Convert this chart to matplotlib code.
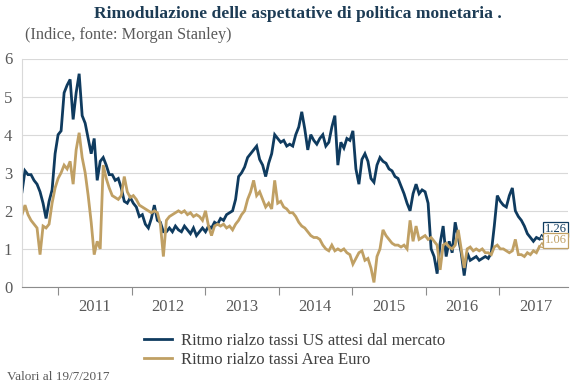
import matplotlib
matplotlib.use("Agg")
import matplotlib.pyplot as plt
import matplotlib.dates as mdates
from matplotlib.lines import Line2D
import pandas as pd

plt.rcParams['font.family'] = ['Liberation Serif', 'DejaVu Serif']

# values, one roughly every two weeks, Jul 2010 - 19 Jul 2017
us = [2.5, 3.05, 2.95, 2.95, 2.8, 2.7, 2.5, 2.2, 1.8, 2.25,
      2.55, 3.5, 4.0, 4.1, 5.1, 5.3, 5.45, 4.4, 5.1, 5.6,
      4.5, 4.3, 3.9, 3.5, 3.9, 2.8, 3.3, 3.4, 3.2, 2.95,
      2.95, 2.8, 2.85, 2.6, 2.25, 2.2, 2.35, 2.2, 2.1, 1.85,
      1.9, 1.65, 1.55, 1.8, 2.15, 1.75, 1.7, 1.45, 1.45, 1.55,
      1.45, 1.6, 1.5, 1.45, 1.6, 1.5, 1.4, 1.55, 1.35, 1.45,
      1.55, 1.45, 1.6, 1.55, 1.7, 1.65, 1.8, 1.75, 1.9, 1.95,
      2.0, 2.3, 2.9, 3.0, 3.15, 3.4, 3.5, 3.6, 3.7, 3.35,
      3.2, 2.9, 3.25, 3.5, 4.0, 3.9, 3.8, 3.85, 3.7, 3.75,
      3.7, 4.0, 4.2, 4.6, 4.15, 3.6, 4.0, 3.85, 3.75, 3.9,
      4.0, 3.7, 3.8, 4.2, 4.5, 3.2, 3.8, 3.65, 3.9, 3.85,
      4.1, 3.1, 2.7, 3.35, 3.5, 3.3, 2.85, 2.75, 3.2, 3.4,
      3.3, 3.25, 3.1, 3.05, 2.9, 2.85, 2.65, 2.45, 2.2, 2.0,
      2.45, 2.7, 2.45, 2.55, 2.5, 2.2, 1.0, 0.8, 0.35, 1.15,
      1.6, 0.8, 1.2, 0.9, 1.7, 1.3, 0.9, 0.3, 0.9, 0.7,
      0.75, 0.8, 0.7, 0.75, 0.8, 0.75, 0.9, 1.6, 2.4, 2.25,
      2.15, 2.1, 2.4, 2.6, 2.0, 1.85, 1.75, 1.6, 1.4, 1.3,
      1.2, 1.3, 1.26]

euro = [1.9, 2.15, 1.9, 1.75, 1.65, 1.55, 0.85, 1.6, 1.55, 1.65,
        2.2, 2.6, 2.85, 3.0, 3.2, 3.1, 3.3, 2.7, 3.6, 4.05,
        3.4, 3.0, 2.4, 1.7, 0.85, 1.2, 1.0, 3.2, 2.85, 2.6,
        2.4, 2.35, 2.3, 2.4, 2.9, 2.5, 2.35, 2.4, 2.3, 2.15,
        2.1, 2.05, 2.0, 1.95, 2.0, 1.95, 1.65, 0.8, 1.75, 1.85,
        1.9, 1.95, 2.0, 1.95, 2.0, 1.9, 1.95, 1.85, 1.9, 1.85,
        1.75, 2.0, 1.6, 1.35, 1.6, 1.65, 1.6, 1.65, 1.55, 1.6,
        1.5, 1.65, 1.75, 1.9, 2.0, 2.3, 2.5, 2.8, 2.4, 2.5,
        2.3, 2.1, 2.2, 2.05, 2.8, 2.2, 2.25, 2.1, 2.05, 1.95,
        1.95, 1.85, 1.7, 1.6, 1.55, 1.45, 1.35, 1.3, 1.3, 1.25,
        1.1, 1.0, 0.95, 1.1, 0.95, 1.0, 0.95, 1.0, 0.9, 0.85,
        0.6, 0.75, 0.9, 0.95, 0.7, 0.75, 0.5, 0.12, 0.8, 1.0,
        1.5, 1.35, 1.25, 1.15, 1.1, 1.1, 1.05, 1.1, 1.0, 1.75, 1.2,
        1.6, 1.25, 1.3, 1.35, 1.25, 1.3, 1.2, 1.1, 0.45, 1.1,
        1.15, 1.05, 1.0, 1.1, 1.5, 1.0, 0.5, 1.0, 1.05, 0.95,
        1.0, 0.95, 1.0, 0.9, 0.9, 0.85, 1.05, 1.1, 1.0, 1.0,
        0.95, 0.9, 0.95, 1.25, 0.85, 0.85, 0.8, 0.9, 0.85, 0.95,
        0.9, 1.06]

labels = ["Ritmo rialzo tassi US attesi dal mercato", "Ritmo rialzo tassi Area Euro"]
colors = ["#0f3b5f", "#c0a064"]

dates = pd.date_range("2010-07-06", "2017-07-19", periods=len(us))

fig = plt.figure(figsize=(5.77, 3.91), dpi=100)
ax = fig.add_axes([22 / 577, 1 - 287 / 391, 546 / 577, 228.5 / 391])

ax.plot(dates, us, color=colors[0], lw=2.0, solid_joinstyle="miter")
ax.plot(dates, euro, color=colors[1], lw=2.0, solid_joinstyle="miter")

ax.set_ylim(0, 6)
ax.set_yticks(range(0, 7))
ax.set_xlim(pd.Timestamp("2010-07-06"), pd.Timestamp("2017-12-08"))

ax.grid(axis="y", color="#d9d9d9", lw=0.8)
ax.set_axisbelow(True)
for s in ["top", "right"]:
    ax.spines[s].set_visible(False)
ax.spines["left"].set_color("#d9d9d9")
ax.spines["bottom"].set_color("#8c8c8c")

ax.xaxis.set_major_locator(mdates.YearLocator())
ax.xaxis.set_major_formatter(plt.NullFormatter())
ax.xaxis.set_minor_locator(mdates.MonthLocator(bymonth=7, bymonthday=1))
ax.xaxis.set_minor_formatter(mdates.DateFormatter("%Y"))
ax.tick_params(axis="x", which="major", length=6, color="#8c8c8c")
ax.tick_params(axis="x", which="minor", length=0, pad=8.5, labelsize=12, labelcolor="#595959")
ax.tick_params(axis="y", length=0, pad=7, labelsize=12, labelcolor="#595959")

# end value callouts
for vals, col, dy in [(us, colors[0], 7), (euro, colors[1], 4.6)]:
    ax.annotate(f"{vals[-1]:.2f}", xy=(dates[-1], vals[-1]), xytext=(4, dy),
                textcoords="offset points", ha="left", va="center", fontsize=9, color=col,
                bbox=dict(boxstyle="square,pad=0.12", fc="white", ec=col, lw=0.9),
                arrowprops=dict(arrowstyle="wedge,tail_width=0.45", fc="white", ec=col, lw=0.9,
                                shrinkA=0, shrinkB=0))

fig.text(298 / 577, 1 - 14.5 / 391, "Rimodulazione delle aspettative di politica monetaria .",
         ha="center", va="center", fontsize=12.6, weight="bold", color="#1d3c55")
fig.text(25 / 577, 1 - 35 / 391, "(Indice, fonte: Morgan Stanley)",
         ha="left", va="center", fontsize=11.7, color="#595959")
fig.text(7 / 577, 1 - 377 / 391, "Valori al 19/7/2017",
         ha="left", va="center", fontsize=9.5, color="#595959")

handles = [Line2D([], [], color=c, lw=2.0) for c in colors]
fig.legend(handles, labels, loc="upper left", bbox_to_anchor=(144 / 577, 1 - 333 / 391),
           frameon=False, borderpad=0, borderaxespad=0, handlelength=1.7,
           handletextpad=0.5, labelspacing=0.15, fontsize=12, labelcolor="#404040")

fig.savefig("out.png", dpi=100)
